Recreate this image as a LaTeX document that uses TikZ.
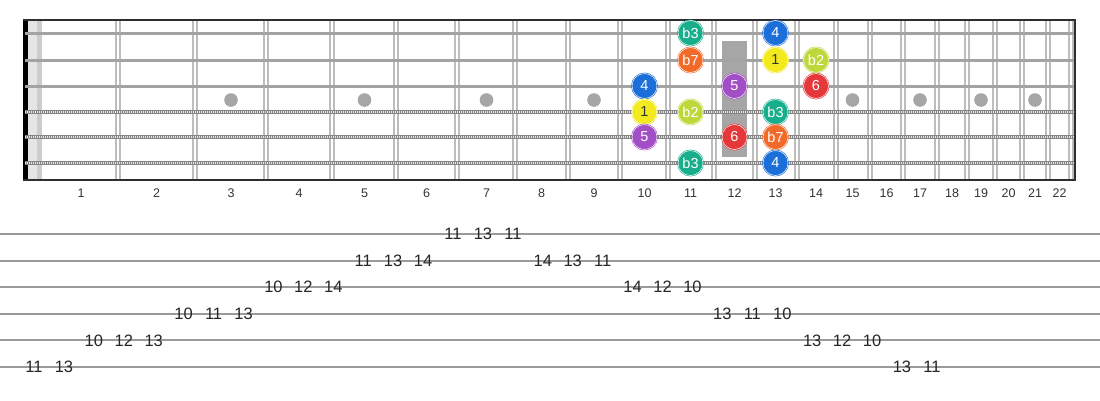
\documentclass[tikz,border=0pt]{standalone}
\usepackage{fontspec}
\setmainfont{Liberation Sans}
\usetikzlibrary{positioning,calc}

\definecolor{fretgray}{HTML}{BDBDBD}
\definecolor{stringgray}{HTML}{A3A3A3}
\definecolor{woundgray}{HTML}{858585}
\definecolor{inlaygray}{HTML}{A6A6A6}
\definecolor{bordergray}{HTML}{2E2E2E}
\definecolor{numgray}{HTML}{333333}
\definecolor{tabgray}{HTML}{9A9A9A}
\definecolor{ntone}{HTML}{F3EA1E}
\definecolor{ntbtwo}{HTML}{BDD83A}
\definecolor{ntbthree}{HTML}{19AE8B}
\definecolor{ntfour}{HTML}{1C6FD8}
\definecolor{ntfive}{HTML}{A24EC6}
\definecolor{ntsix}{HTML}{E5383B}
\definecolor{ntbseven}{HTML}{F26A29}

\tikzset{
  note/.style={circle, fill=#1, draw=#1, double=white, double distance=0.5pt,
    line width=0.6pt, minimum size=25pt, inner sep=0pt, text=white,
    font=\fontsize{14.5}{14.5}\selectfont},
  fretnum/.style={font=\fontsize{12.5}{12.5}\selectfont, text=numgray},
  tabnum/.style={font=\fontsize{16.5}{16.5}\selectfont, text=black!85, inner sep=1pt},
  plainstring/.style={draw=stringgray, line width=3pt},
  woundstring/.style={draw=woundgray, line width=4.6pt,
    postaction={draw=white!80!gray, line width=2.2pt, dash pattern=on 0.9pt off 1.1pt}},
  fretline/.style={draw=fretgray, line width=1.8pt},
  tabline/.style={draw=tabgray, line width=2pt}
}

\begin{document}
\begin{tikzpicture}[x=1pt, y=-1pt]
  \useasboundingbox (0,0) rectangle (1100,400);

  % strings, frets and fret centres
  \foreach \s/\y in {1/33,2/60,3/86,4/112,5/137,6/163}
    \coordinate (s\s) at (0,\y);
  \foreach \x [count=\i] in {118,195,266,332,396,457,515,568,620,668,714,755,
      797,836,870,903,937,967,995,1022,1048,1071}
    \coordinate (f\i) at (\x,0);
  \foreach \c [count=\n] in {81,156.5,231,299,364.5,426.5,486.5,541.5,594,644.5,690.5,
      734.5,775.5,816,852.5,886.5,920,952,981,1008.5,1035,1059.5}
    \coordinate (c\n) at (\c,0);
  \coordinate (dotrow) at (0,100);
  \coordinate (numrow) at (0,193);

  % nut
  \fill[black] (23,20) rectangle (28,180);
  \fill[black!10] (28,20) rectangle (42,180);
  \fill[black!20] (37,20) rectangle (42,180);

  % frets
  \foreach \i in {1,...,22} {
    \draw[fretline] ([xshift=-2pt]f\i |- 0,20) -- ([xshift=-2pt]f\i |- 0,180);
    \draw[fretline] ([xshift=2pt]f\i |- 0,20) -- ([xshift=2pt]f\i |- 0,180);
  }

  % inlays
  \foreach \n in {3,5,7,9,15,17,19,21}
    \fill[inlaygray] (c\n |- dotrow) circle (6.8);
  \fill[inlaygray] (722,41) rectangle (747,157);

  % strings
  \foreach \s in {1,2,3}
    \draw[plainstring] (25,0 |- s\s) -- (1075,0 |- s\s);
  \foreach \s in {4,5,6}
    \draw[woundstring] (25,0 |- s\s) -- (1075,0 |- s\s);

  % border
  \draw[bordergray, line width=2.2pt] (23,20) -- (1075,20) -- (1075,180) -- (23,180);

  % fret numbers
  \foreach \n in {1,...,22}
    \node[fretnum] (fn\n) at (c\n |- numrow) {\n};

  % scale notes
  \node[note=ntbthree] (na) at (c11 |- s1) {b3};
  \node[note=ntfour] (nb) at (c13 |- s1) {4};
  \node[note=ntbseven] (nc) at (c11 |- s2) {b7};
  \node[note=ntone, text=black!80] (nd) at (c13 |- s2) {1};
  \node[note=ntbtwo] (ne) at (c14 |- s2) {b2};
  \node[note=ntfour] (nf) at (c10 |- s3) {4};
  \node[note=ntfive] (ng) at (c12 |- s3) {5};
  \node[note=ntsix] (nh) at (c14 |- s3) {6};
  \node[note=ntone, text=black!80] (ni) at (c10 |- s4) {1};
  \node[note=ntbtwo] (nj) at (c11 |- s4) {b2};
  \node[note=ntbthree] (nk) at (c13 |- s4) {b3};
  \node[note=ntfive] (nl) at (c10 |- s5) {5};
  \node[note=ntsix] (nm) at (c12 |- s5) {6};
  \node[note=ntbseven] (nn) at (c13 |- s5) {b7};
  \node[note=ntbthree] (no) at (c11 |- s6) {b3};
  \node[note=ntfour] (np) at (c13 |- s6) {4};

  % tab staff
  \foreach \r in {1,...,6} {
    \coordinate (tl\r) at (0,{234+26.6*(\r-1)});
    \coordinate (tr\r) at (1100,{234+26.6*(\r-1)});
    \draw[tabline] (tl\r) -- (tr\r);
  }

  % tab numbers: column/line/fret
  \foreach \k/\r/\v in {0/6/11,1/6/13,2/5/10,3/5/12,4/5/13,5/4/10,6/4/11,7/4/13,
      8/3/10,9/3/12,10/3/14,11/2/11,12/2/13,13/2/14,14/1/11,15/1/13,16/1/11,
      17/2/14,18/2/13,19/2/11,20/3/14,21/3/12,22/3/10,23/4/13,24/4/11,25/4/10,
      26/5/13,27/5/12,28/5/10,29/6/13,30/6/11}
    \node[tabnum] (t\k) at ({34+29.93*\k},0 |- tl\r) {\v};
\end{tikzpicture}
\end{document}
